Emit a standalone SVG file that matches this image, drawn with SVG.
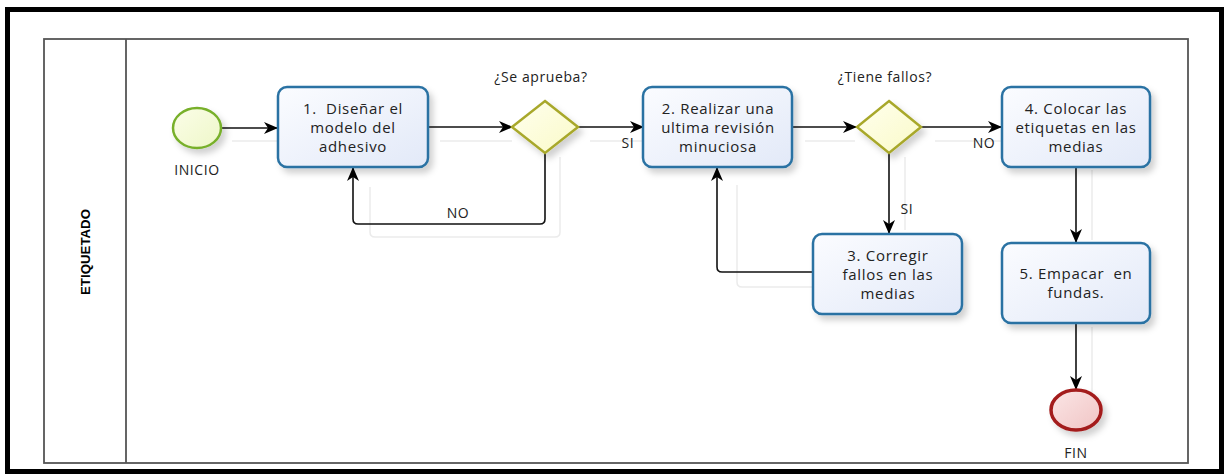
<svg xmlns="http://www.w3.org/2000/svg" width="1226" height="474" viewBox="0 0 1226 474">
<defs>
<linearGradient id="gTask" x1="0" y1="0" x2="1" y2="1"><stop offset="0" stop-color="#fbfcff"/><stop offset="1" stop-color="#e2e9f8"/></linearGradient>
<linearGradient id="gStart" x1="0" y1="0" x2="1" y2="1"><stop offset="0" stop-color="#fbfde8"/><stop offset="1" stop-color="#eef7c8"/></linearGradient>
<linearGradient id="gEnd" x1="0" y1="0" x2="1" y2="1"><stop offset="0" stop-color="#fbe6e6"/><stop offset="1" stop-color="#f0c4c4"/></linearGradient>
<linearGradient id="gGw" x1="0" y1="0" x2="1" y2="1"><stop offset="0" stop-color="#ffffee"/><stop offset="1" stop-color="#fafac8"/></linearGradient>
<marker id="arr" viewBox="0 0 14 12" refX="13" refY="6" markerWidth="14" markerHeight="12" markerUnits="userSpaceOnUse" orient="auto">
<path d="M0,0 L14,6 L0,12 L4,6 Z" fill="#000"/>
</marker>
<filter id="sh" x="-20%" y="-20%" width="150%" height="150%"><feDropShadow dx="4" dy="5" stdDeviation="3" flood-color="#000" flood-opacity="0.18"/></filter>
</defs>
<style>
.txt{font-family:"Open Sans","DejaVu Sans",sans-serif;font-size:15px;fill:#222;text-anchor:middle;letter-spacing:0.7px;white-space:pre}
.lbl{font-family:"Open Sans","DejaVu Sans",sans-serif;font-size:14px;fill:#222;text-anchor:middle;letter-spacing:0.6px}
.task{fill:url(#gTask);stroke:#2a72a3;stroke-width:2.5;filter:url(#sh)}
.gw{fill:url(#gGw);stroke:#a8a82c;stroke-width:2.5;filter:url(#sh)}
.flow{fill:none;stroke:#111;stroke-width:1.6;marker-end:url(#arr)}
.ghost{fill:none;stroke:#ebebeb;stroke-width:1.5}
</style>
<rect x="0" y="0" width="1226" height="474" fill="#fff"/>
<rect x="7.5" y="9.5" width="1214" height="462" fill="none" stroke="#000" stroke-width="5"/>
<g id="lane">
<rect x="44" y="39" width="1144" height="424" fill="none" stroke="#555" stroke-width="1.8"/>
<line x1="126" y1="39" x2="126" y2="463" stroke="#555" stroke-width="1.8"/>
<text x="0" y="0" transform="translate(90,252) rotate(-90)" font-family="'Liberation Sans Narrow','Liberation Sans',sans-serif" font-size="13" font-weight="bold" text-anchor="middle" textLength="86" lengthAdjust="spacingAndGlyphs">ETIQUETADO</text>
</g>
<g id="connectors">
<path class="ghost" d="M370,187 V232 Q370,237 375,237 H555 Q560,237 560,232 V157"/>
<path class="ghost" d="M737,185 V282 Q737,287 742,287 H813"/>
<path class="ghost" d="M905,157 V230"/>
<path class="ghost" d="M1092,170 V240 M1092,327 V400"/>
<path class="ghost" d="M232,141 H278 M440,141 H512 M590,141 H644 M805,141 H855 M935,141 H1002"/>
<path class="flow" d="M222,128 H277"/>
<path class="flow" d="M428,127 H512"/>
<path class="flow" d="M545,153 V219 Q545,224 540,224 H358 Q353,224 353,219 V168"/>
<path class="flow" d="M578,127 H643"/>
<path class="flow" d="M792,127 H856"/>
<path class="flow" d="M889,153 V233"/>
<path class="flow" d="M813,272 H722 Q717,272 717,267 V168"/>
<path class="flow" d="M921,127 H1001"/>
<path class="flow" d="M1076,167 V242"/>
<path class="flow" d="M1076,323 V389"/>
<text class="lbl" x="458" y="218">NO</text>
<text class="lbl" x="628" y="148">SI</text>
<text class="lbl" x="907" y="214">SI</text>
<text class="lbl" x="984" y="148">NO</text>
</g>
<g id="start">
<ellipse cx="197" cy="128" rx="24" ry="20" fill="url(#gStart)" stroke="#78b02c" stroke-width="2.5" filter="url(#sh)"/>
<text class="lbl" x="197" y="175">INICIO</text>
</g>
<g id="task1">
<rect class="task" x="278" y="87" width="150" height="80" rx="9"/>
<text class="txt" x="353" y="114">1.  Diseñar el</text>
<text class="txt" x="353" y="133">modelo del</text>
<text class="txt" x="353" y="152">adhesivo</text>
</g>
<g id="gateway1">
<polygon class="gw" points="545,101 578,127 545,153 512,127"/>
<text class="lbl" x="541" y="82">¿Se aprueba?</text>
</g>
<g id="task2">
<rect class="task" x="643" y="87" width="149" height="80" rx="9"/>
<text class="txt" x="718" y="114">2. Realizar una</text>
<text class="txt" x="718" y="133">ultima revisión</text>
<text class="txt" x="718" y="152">minuciosa</text>
</g>
<g id="gateway2">
<polygon class="gw" points="889,101 921,127 889,153 857,127"/>
<text class="lbl" x="885" y="82">¿Tiene fallos?</text>
</g>
<g id="task3">
<rect class="task" x="813" y="234" width="149" height="80" rx="9"/>
<text class="txt" x="888" y="261">3. Corregir</text>
<text class="txt" x="888" y="280">fallos en las</text>
<text class="txt" x="888" y="299">medias</text>
</g>
<g id="task4">
<rect class="task" x="1002" y="87" width="148" height="80" rx="9"/>
<text class="txt" x="1076" y="114">4. Colocar las</text>
<text class="txt" x="1076" y="133">etiquetas en las</text>
<text class="txt" x="1076" y="152">medias</text>
</g>
<g id="task5">
<rect class="task" x="1002" y="243" width="148" height="80" rx="9"/>
<text class="txt" x="1076" y="279">5. Empacar  en</text>
<text class="txt" x="1076" y="298">fundas.</text>
</g>
<g id="end">
<ellipse cx="1076" cy="410" rx="25" ry="20" fill="url(#gEnd)" stroke="#a31a1a" stroke-width="3.5" filter="url(#sh)"/>
<text class="lbl" x="1076" y="458">FIN</text>
</g>
</svg>
